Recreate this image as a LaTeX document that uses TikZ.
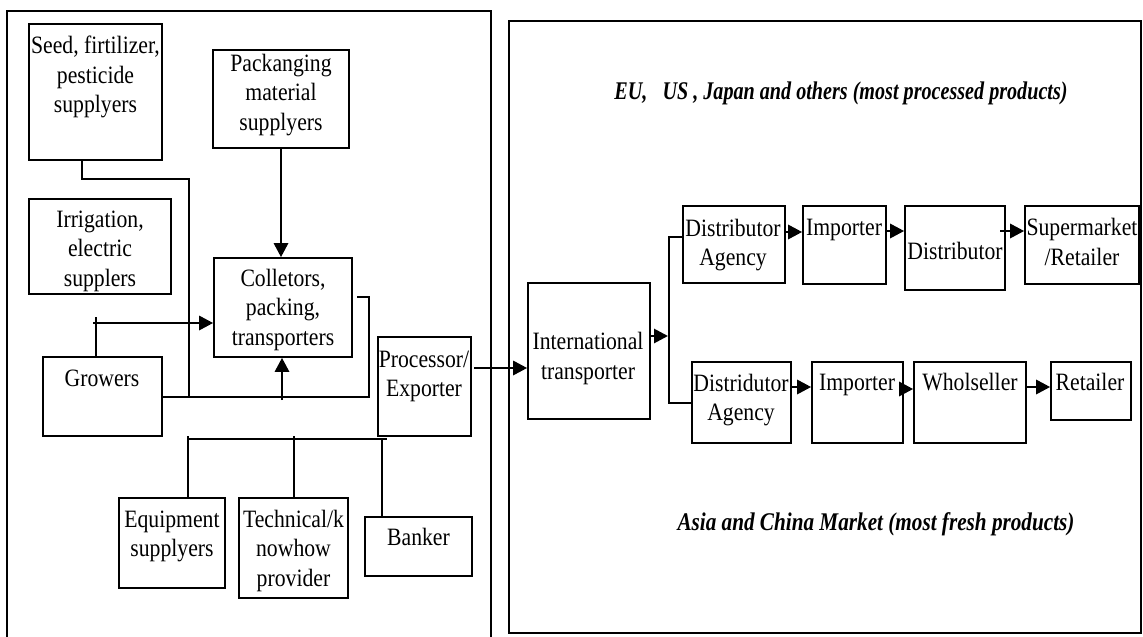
\documentclass[tikz,border=0pt]{standalone}
\usepackage{fontspec}
\setmainfont{Liberation Serif}
\usepackage{graphicx}
\usetikzlibrary{arrows.meta}

% slightly tall lettering used throughout the chart
\newcommand\tb[1]{\scalebox{1}[1.15]{\begin{tabular}{@{}c@{}}#1\end{tabular}}}

\begin{document}
\begin{tikzpicture}[x=1pt,y=-1pt,
  frame/.style={line width=1.8pt},
  box/.style={draw, line width=1.6pt, inner sep=0pt},
  txt/.style={inner sep=0pt, font=\fontsize{21.7}{25.6}\selectfont},
  ttl/.style={inner sep=0pt, font=\fontsize{21.2}{25}\selectfont\bfseries\itshape},
  link/.style={line width=1.5pt},
  heavy/.style={line width=2.8pt},
  arr/.style={line width=2.8pt, -{Triangle[length=14pt,width=14pt]}}]
\useasboundingbox (0,0) rectangle (1143,637);

% two panels: production side and export markets
\draw[frame] (7,650) -- (7,11) -- (491,11) -- (491,650);
\draw[frame] (509,21) rectangle (1141,633);

% ---- production side ----
\node[box, minimum width=133pt, minimum height=136pt] (seed)  at (95.5,92)   {};
\node[box, minimum width=136pt, minimum height=98pt]  (pack)  at (281,99)    {};
\node[box, minimum width=142pt, minimum height=95pt]  (irr)   at (100,246.5) {};
\node[box, minimum width=138pt, minimum height=99pt]  (coll)  at (283,307.5) {};
\node[box, minimum width=119pt, minimum height=79pt]  (grow)  at (102.5,396.5) {};
\node[box, minimum width=93pt,  minimum height=99pt]  (proc)  at (424.5,386.5) {};
\node[box, minimum width=106pt, minimum height=90pt]  (equip) at (172,543)   {};
\node[box, minimum width=109pt, minimum height=100pt] (tech)  at (293.5,548) {};
\node[box, minimum width=107pt, minimum height=59pt]  (bank)  at (418.5,546.5) {};

\node[txt] (seed-t)  at (95.5,77.5) {\tb{Seed, firtilizer,\\pesticide\\supplyers}};
\node[txt] (pack-t)  at (281,95)    {\tb{Packanging\\material\\supplyers}};
\node[txt] (irr-t)   at (100,251)   {\tb{Irrigation,\\electric\\supplers}};
\node[txt] (coll-t)  at (283,310)   {\tb{Colletors,\\packing,\\transporters}};
\node[txt] (grow-t)  at (102,381)   {\tb{Growers}};
\node[txt] (proc-t)  at (424,376)   {\tb{Processor/\\Exporter}};
\node[txt] (equip-t) at (172,536)   {\tb{Equipment\\supplyers}};
\node[txt] (tech-t)  at (293.5,551) {\tb{Technical/k\\nowhow\\provider}};
\node[txt] (bank-t)  at (418.5,540) {\tb{Banker}};

% inputs feeding the growers' line
\coordinate (c1) at (82,179);
\coordinate (c2) at (189,179);
\coordinate (c3) at (189,397);
\draw[link] (seed.south -| c1) -- (c1) -- (c2) -- (c3);

\coordinate (g1) at (369,397);
\coordinate (g2) at (369,297);
\coordinate (g3) at (357,297);
\draw[link] (grow.east |- g1) -- (g1) -- (g2) -- (g3);

\coordinate (u0) at (282,400);
\draw[arr] (u0) -- (coll.south -| u0);
\draw[arr] (pack.south) -- (pack.south |- coll.north);

\coordinate (h0) at (96,317);
\coordinate (h1) at (93,323);
\draw[heavy] (grow.north -| h0) -- (h0);
\draw[arr] (h1) -- (coll.west |- h1);

% support services line
\coordinate (q1) at (188,439);
\coordinate (q2) at (387,439);
\coordinate (q1u) at (188,436);
\coordinate (q2u) at (294,436);
\coordinate (q3) at (382,439);
\draw[link] (q1) -- (q2);
\draw[link] (q1u) -- (equip.north -| q1u);
\draw[link] (q2u) -- (tech.north -| q2u);
\draw[link] (q3) -- (bank.north -| q3);

% ---- export markets ----
\node[box, minimum width=122pt, minimum height=136pt] (intl)  at (589,351)    {};
\node[box, minimum width=102pt, minimum height=77pt]  (da1)   at (734,244.5)  {};
\node[box, minimum width=83pt,  minimum height=78pt]  (imp1)  at (844.5,245)  {};
\node[box, minimum width=100pt, minimum height=84pt]  (dist)  at (955,248)    {};
\node[box, minimum width=114pt, minimum height=78pt]  (super) at (1082,245)   {};
\node[box, minimum width=99pt,  minimum height=81pt]  (da2)   at (741.5,402.5) {};
\node[box, minimum width=91pt,  minimum height=81pt]  (imp2)  at (857.5,402.5) {};
\node[box, minimum width=112pt, minimum height=81pt]  (whol)  at (970,402.5)  {};
\node[box, minimum width=80pt,  minimum height=58pt]  (ret)   at (1091,391)   {};

\node[txt] (intl-t)  at (588,358.5) {\tb{International\\transporter}};
\node[txt] (da1-t)   at (733,245)   {\tb{Distributor\\Agency}};
\node[txt] (imp1-t)  at (844,230)   {\tb{Importer}};
\node[txt] (dist-t)  at (955,254)   {\tb{Distributor}};
\node[txt] (super-t) at (1082,244.5) {\tb{Supermarket\\/Retailer}};
\node[txt] (da2-t)   at (741,400)   {\tb{Distridutor\\Agency}};
\node[txt] (imp2-t)  at (857,385)   {\tb{Importer}};
\node[txt] (whol-t)  at (970,385)   {\tb{Wholseller}};
\node[txt] (ret-t)   at (1090,385)  {\tb{Retailer}};

\node[ttl] (eu)   at (841,93)  {\scalebox{0.95}[1.2]{EU,\ \ \ US , Japan and others (most processed products)}};
\node[ttl] (asia) at (876,524) {\scalebox{1}[1.2]{Asia and China Market (most fresh products)}};

\coordinate (p0) at (474,368);
\draw[arr] (p0) -- (intl.west |- p0);

\coordinate (t0) at (668,336);
\draw[arr] (intl.east |- t0) -- (t0);

\coordinate (b1) at (669,237);
\coordinate (b2) at (669,403);
\draw[link] (da1.west |- b1) -- (b1) -- (b2) -- (da2.west |- b2);

\coordinate (r1) at (0,232);
\coordinate (r2) at (0,231);
\coordinate (r3) at (1000,231);
\coordinate (r4) at (0,387);
\coordinate (r5) at (0,389);
\draw[arr] (da1.east |- r1) -- (imp1.west |- r1);
\draw[arr] (imp1.east |- r2) -- (dist.west |- r2);
\draw[arr] (r3) -- (super.west |- r3);
\draw[arr] (da2.east |- r4) -- (imp2.west |- r4);
\draw[arr] (imp2.east |- r5) -- (whol.west |- r5);
\draw[arr] (whol.east |- r4) -- (ret.west |- r4);
\end{tikzpicture}
\end{document}
